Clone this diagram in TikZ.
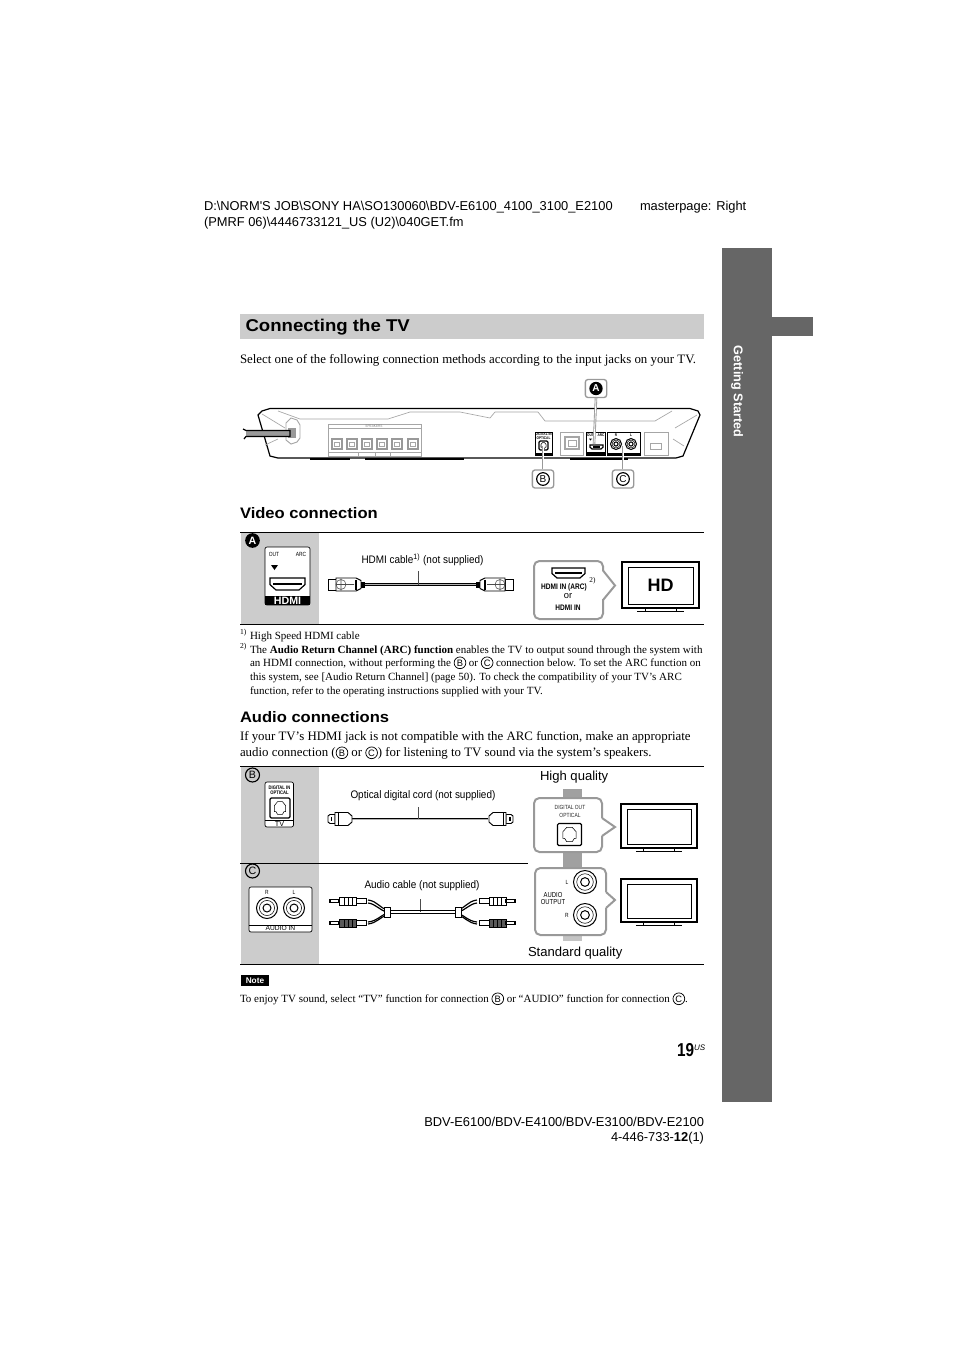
\documentclass[tikz,border=0pt]{standalone}
\usepackage{fontspec}
\setmainfont{Liberation Serif}
\setsansfont{Liberation Sans}
\newfontfamily\headf{Liberation Sans}
\newfontfamily\narrowf[FakeStretch=0.82]{Liberation Sans}
\newfontfamily\cablef[FakeStretch=0.91]{Liberation Sans}
\newfontfamily\widef[FakeStretch=1.09]{Liberation Sans}
\usepackage{xcolor}
\usetikzlibrary{calc, positioning}
\definecolor{sidegray}{HTML}{666666}
\definecolor{cellgray}{HTML}{CCCCCC}
\definecolor{framegray}{HTML}{999999}
\definecolor{paneldark}{HTML}{A0A0A0}
\definecolor{panellight}{HTML}{C4C4C4}

% letter in a ring, inside running text
\newcommand{\ringed}[1]{\tikz[baseline=(ring.base)]\node[circle, draw=black, line width=.55pt, minimum size=8.8pt, inner sep=0pt, font=\sffamily\fontsize{7}{8}\selectfont] (ring) {#1};}

% TV set, top left corner at #1,#2, sizes #3,#4
\newcommand{\tvset}[4]{
  \draw[black, line width=1pt] (#1,#2) rectangle ++(#3,#4);
  \draw[black, line width=.5pt] ($(#1,#2)+(6,5)$) rectangle ($(#1,#2)+(#3,#4)+(-6,-4)$);
  \draw[black, line width=.5pt] ($(#1,#2)+(0.3*#3,#4)$) -- ++(0,3) ++(-8,0) -- ++({0.4*#3+16},0) ++(-8,0) -- ++(0,-3);
}
% round jack with rings
\newcommand{\rcajack}[3]{
  \draw[black, line width=.75pt, fill=white] (#1,#2) circle (#3);
  \draw[black, thin] (#1,#2) circle ({0.72*#3});
  \draw[black, line width=.75pt] (#1,#2) circle ({0.38*#3});
}
% hdmi socket
\newcommand{\hdmisock}[4]{
  \draw[black, line width=.9pt, fill=white] (#1,#2) -- ++(#3,0) -- ++(0,#4*.55) -- ++(-#4*.5,#4*.45) -- ++({-#3+#4},0) -- ++(-#4*.5,-#4*.45) -- cycle;
  \draw[black, thick] ($(#1,#2)+(3,#4*.5)$) -- ++({#3-6},0);
}
% optical socket
\newcommand{\optsock}[4]{
  \draw[black, line width=.9pt, rounded corners=1pt, fill=white] (#1,#2) rectangle ++(#3,#4);
  \draw[black, thin] ($(#1,#2)+(#3*.22,#4*.5)$) -- ++(0,#4*.18) -- ++(#3*.08,0) -- ++(#3*.08,#4*.14) -- ++(#3*.24,0) -- ++(#3*.08,-#4*.14) -- ++(#3*.08,0) -- ++(0,-#4*.3) -- ++(-#3*.16,-#4*.2) -- ++(-#3*.24,0) -- ++(-#3*.16,#4*.2) -- cycle;
}

\begin{document}
\begin{tikzpicture}[x=0.75pt, y=-0.75pt, >=stealth,
    base/.style={inner sep=0pt, outer sep=0pt, anchor=base west},
    headtext/.style={base, font=\headf\fontsize{9.65}{12}\selectfont},
    bodytext/.style={base, font=\rmfamily\fontsize{9.65}{12}\selectfont},
    foottext/.style={base, font=\rmfamily\fontsize{8.25}{10}\selectfont},
    subhead/.style={base, font=\widef\bfseries\fontsize{11.4}{13}\selectfont},
    cabletext/.style={base, font=\cablef\fontsize{8.2}{10}\selectfont},
    qualtext/.style={base, font=\sffamily\fontsize{9.8}{12}\selectfont},
    tinytext/.style={inner sep=0pt, font=\narrowf\fontsize{4.5}{5}\selectfont},
    microtext/.style={inner sep=0pt, font=\narrowf\bfseries\fontsize{2.9}{3}\selectfont},
    tagbox/.style={draw=framegray, line width=1pt, rounded corners=2pt, fill=white, minimum width=16pt, minimum height=13.5pt, inner sep=0pt},
    blackdot/.style={circle, fill=black, text=white, minimum size=11pt, inner sep=0pt, font=\sffamily\bfseries\fontsize{8}{9}\selectfont},
    opendot/.style={circle, draw=black, line width=.85pt, minimum size=10.5pt, inner sep=0pt, font=\sffamily\fontsize{8}{9}\selectfont},
    panelline/.style={draw=black!35, line width=.5pt},
    cordouter/.style={draw=black, line width=2.2pt},
    cordinner/.style={draw=black!30, line width=.6pt},
    callout/.style={draw=framegray, line width=1.5pt, fill=white, rounded corners=4pt}]

  \useasboundingbox (0,0) rectangle (954,1350);

  % header
  \node[headtext] (pathone) at (204,210) {D:\textbackslash NORM'S JOB\textbackslash SONY HA\textbackslash SO130060\textbackslash BDV-E6100\_4100\_3100\_E2100};
  \node[headtext] (master) at (640,210) {masterpage: Right};
  \node[headtext] (pathtwo) at (204,226) {(PMRF 06)\textbackslash 4446733121\_US (U2)\textbackslash 040GET.fm};

  % side bar
  \fill[sidegray] (722,248) rectangle (772,1102);
  \fill[sidegray] (772,317) rectangle (813,336);
  \node[inner sep=0pt, rotate=-90, text=white, font=\sffamily\bfseries\fontsize{9.5}{10}\selectfont] (sidetitle) at (737,391.5) {Getting Started};

  % title
  \fill[cellgray] (240,314) rectangle (704,339);
  \node[base, font=\widef\bfseries\fontsize{12.8}{14}\selectfont] (title) at (245.5,331) {Connecting the TV};
  \node[bodytext] (intro) at (240,363) {Select one of the following connection methods according to the input jacks on your TV.};

  % player rear panel
  \draw[black, line width=.9pt, fill=white] (258,415) -- (262,411) -- (270,408.5) -- (690,408.5) -- (698,411) -- (700,415) -- (683,456) -- (676,458) -- (278,458) -- (270,456) -- cycle;
  \draw[black, line width=1.4pt] (270,408.5) -- (690,408.5);
  \draw[panelline] (262,414) -- (285,428) (265,445) -- (278,439);
  \draw[panelline] (278,411) -- (300,419) -- (388,419) -- (410,412) -- (460,412) -- (490,418) -- (495,412) -- (538,412);
  \draw[panelline] (538,412) -- (545,421) -- (655,421) -- (672,411);
  \draw[panelline] (697,415) -- (675,428) (673,439) -- (684,446);
  \draw[black, line width=1.2pt] (310,459) -- (350,459) (365,459) -- (464,459) (570,459) -- (628,459);
  % power cable
  \draw[panelline, line width=.7pt] (286,423) -- (291,418) -- (297,420) -- (300,425) -- (300,438) -- (297,442) -- (291,444) -- (286,440) -- cycle;
  \fill[black!40] (288,428) rectangle (296,438);
  \fill[black!40] (246,430.5) rectangle (290,436.5);
  \draw[black, line width=.9pt] (243,429) -- (246,430.5) -- (290,430.5) -- (290,436.5) -- (246,436.5) -- (244,439);
  % speaker terminals
  \draw[panelline] (328,424) rectangle (421,456);
  \draw[panelline] (328,428) -- (421,428) (328,452) -- (421,452) (358,452) -- (358,456) (375,452) -- (375,456) (390,452) -- (390,456);
  \node[tinytext, font=\narrowf\fontsize{2.9}{3}\selectfont, text=black!50] (spklabel) at (374,425.8) {SPEAKERS};
  \foreach \sx in {337,352,367,382,397,413}{
    \draw[draw=black!40, line width=.8pt] (\sx-5,439) rectangle (\sx+5,449);
    \draw[panelline] (\sx-2.5,442) rectangle (\sx+2.5,446);
  }
  % digital in
  \draw[black, line width=.5pt, fill=white] (535,432) rectangle (552,455);
  \node[microtext] (bdigin) at (543.5,434.5) {DIGITAL IN};
  \node[microtext] (bdigopt) at (543.5,438) {OPTICAL};
  \optsock{539}{441}{9}{9}
  \fill[black] (535,452.5) rectangle (552,455);
  % lan
  \draw[panelline] (560,432) rectangle (583,455);
  \draw[panelline, line width=.8pt] (565,437) rectangle (579,449);
  \draw[panelline] (568,440) rectangle (576,446);
  % hdmi
  \draw[black, line width=.5pt] (586,432) rectangle (605,455);
  \fill[black] (586,452) rectangle (605,455);
  \node[microtext] (boutlbl) at (590.5,435) {OUT};
  \node[microtext] (barclbl) at (601,435) {ARC};
  \fill[black] (589,438.5) -- (592,438.5) -- (590.5,440.5) -- cycle;
  \hdmisock{590}{445}{13}{4}
  % audio in
  \draw[black, line width=.6pt] (607,432) rectangle (640,455);
  \fill[black] (607,452.5) rectangle (640,455);
  \node[microtext] (brlbl) at (616,435) {R};
  \node[microtext] (bllbl) at (631,435) {L};
  \rcajack{616}{444}{5.5}
  \rcajack{631}{444}{5.5}
  % antenna
  \draw[panelline] (644,432) rectangle (668,455);
  \draw[panelline] (650,443) rectangle (661,449);

  % tags
  \coordinate (jacka) at (594,444);
  \coordinate (jackb) at (543,446);
  \coordinate (jackc) at (623,446);
  \node[tagbox] (taga) at (596,388.5) {};
  \node[tagbox] (tagb) at (543,479) {};
  \node[tagbox] (tagc) at (623,479) {};
  \draw[framegray, line width=1.9pt] (taga.south) -- (jacka);
  \draw[white, line width=.6pt] (taga.south) -- (jacka);
  \draw[framegray, line width=1.9pt] (tagb.north) -- (jackb);
  \draw[white, line width=.6pt] (tagb.north) -- (jackb);
  \draw[framegray, line width=1.9pt] (tagc.north) -- (jackc);
  \draw[white, line width=.6pt] (tagc.north) -- (jackc);
  \node[blackdot, minimum size=10pt, font=\sffamily\bfseries\fontsize{7.5}{8}\selectfont] (dota) at (taga) {A};
  \node[opendot, minimum size=9.5pt, font=\sffamily\fontsize{7.5}{8}\selectfont] (dotb) at (tagb) {B};
  \node[opendot, minimum size=9.5pt, font=\sffamily\fontsize{7.5}{8}\selectfont] (dotc) at (tagc) {C};

  % video connection
  \node[subhead] (videohead) at (240,518) {Video connection};
  \fill[cellgray] (241,533) rectangle (319,624);
  \draw[black, line width=.8pt] (240,532.5) -- (704,532.5) (240,624.5) -- (704,624.5);
  \node[blackdot] (cella) at (252.5,540.5) {A};
  % hdmi out panel
  \draw[black, line width=.5pt, rounded corners=1.5pt, fill=white] (265,547) rectangle (310,605);
  \node[tinytext] (outlbl) at (274,554) {OUT};
  \node[tinytext] (arclbl) at (301,554) {ARC};
  \fill[black] (271,565) -- (278,565) -- (274.5,570) -- cycle;
  \hdmisock{270}{578}{35}{12}
  \fill[black] (265,596) rectangle (310,605);
  \node[inner sep=0pt, text=white, font=\sffamily\bfseries\fontsize{8}{9}\selectfont] (hdmilogo) at (287.5,600.5) {HDMI};
  % hdmi cable
  \node[cabletext] (hdmicap) at (361.5,563) {HDMI cable\textsuperscript{\fontsize{5.8}{6}\selectfont 1)} (not supplied)};
  \draw[cordouter] (362,584.5) -- (480,584.5);
  \draw[cordinner] (362,584.5) -- (480,584.5);
  \draw[black!70, line width=.8pt] (418.5,571) -- (418.5,585);
  \foreach \hs/\hx in {1/328,-1/513}{
    \begin{scope}[shift={(\hx,584.5)}, xscale=\hs]
      \draw[black, line width=.7pt, fill=white] (0,-5.5) rectangle (8,5.5);
      \draw[black, line width=.7pt, fill=white] (8,-6.5) -- (28,-6.5) -- (33,-4) -- (33,4) -- (28,6.5) -- (8,6.5) -- cycle;
      \draw[black!70, thin] (13,0) circle (5) (8,0) -- (26,0) (13,-6) -- (13,6);
      \draw[black, thick] (28,-5) -- (28,5);
      \fill[black] (33,-3) rectangle (37,3);
    \end{scope}
  }
  % hdmi callout
  \draw[callout] (534,561) rectangle (603,619);
  \fill[white] (601,571) rectangle (605,599);
  \draw[framegray, line width=1.5pt] (603,570.5) -- (615,585.5) -- (603,600);
  \hdmisock{552}{568}{33}{10}
  \node[inner sep=0pt, font=\narrowf\bfseries\fontsize{6}{7}\selectfont] (hdmiinarc) at (564,587) {HDMI IN (ARC)};
  \node[inner sep=0pt, font=\rmfamily\fontsize{5.5}{6}\selectfont] (hdminote) at (592.5,581) {2)};
  \node[inner sep=0pt, font=\sffamily\fontsize{7}{8}\selectfont] (hdmior) at (568,596) {or};
  \node[inner sep=0pt, font=\narrowf\bfseries\fontsize{6}{7}\selectfont] (hdmiin) at (568,608) {HDMI IN};
  \tvset{622}{562}{77}{46}
  \node[inner sep=0pt, font=\sffamily\bfseries\fontsize{13.5}{15}\selectfont] (hdlbl) at (660.5,585) {HD};

  % footnotes
  \node[foottext, font=\rmfamily\fontsize{5.7}{6}\selectfont] (fna) at (240,634) {1)};
  \node[foottext] (fnatext) at (250,639) {High Speed HDMI cable};
  \node[foottext, font=\rmfamily\fontsize{5.7}{6}\selectfont] (fnb) at (240,648) {2)};
  \node[foottext] (fnbone) at (250,653) {The \textbf{Audio Return Channel (ARC) function} enables the TV to output sound through the system with};
  \node[foottext] (fnbtwo) at (250,666) {an HDMI connection, without performing the \ringed{B} or \ringed{C} connection below. To set the ARC function on};
  \node[foottext] (fnbthree) at (250,680) {this system, see [Audio Return Channel] (page 50). To check the compatibility of your TV's ARC};
  \node[foottext] (fnbfour) at (250,694) {function, refer to the operating instructions supplied with your TV.};

  % audio connections
  \node[subhead] (audiohead) at (240,722) {Audio connections};
  \node[bodytext] (audioone) at (240,740) {If your TV's HDMI jack is not compatible with the ARC function, make an appropriate};
  \node[bodytext] (audiotwo) at (240,756) {audio connection (\ringed{B} or \ringed{C}) for listening to TV sound via the system's speakers.};

  \fill[cellgray] (241,767) rectangle (319,964);
  \draw[black, line width=.8pt] (240,766.5) -- (704,766.5) (240,964.5) -- (704,964.5);
  \draw[black, line width=.8pt] (240,863.5) -- (528,863.5);
  \node[opendot] (cellb) at (252.5,775) {B};
  \node[opendot] (cellc) at (252.5,871) {C};
  % digital in panel
  \draw[black, line width=.5pt, rounded corners=1.5pt, fill=white] (265,782) rectangle (293.5,827);
  \node[tinytext, font=\narrowf\bfseries\fontsize{3.8}{4}\selectfont] (digin) at (279.5,787.5) {DIGITAL IN};
  \node[tinytext, font=\narrowf\bfseries\fontsize{3.8}{4}\selectfont] (digopt) at (279.5,793) {OPTICAL};
  \optsock{270}{798}{20}{20}
  \draw[black, thin] (265,820) -- (293.5,820);
  \node[tinytext, font=\sffamily\fontsize{5.5}{6}\selectfont] (digtv) at (279.5,824) {TV};
  % optical cord
  \node[cabletext] (optcap) at (350.5,798) {Optical digital cord (not supplied)};
  \draw[cordouter] (352,819) -- (488,819);
  \draw[cordinner] (352,819) -- (488,819);
  \draw[black!70, line width=.8pt] (418.5,807) -- (418.5,819);
  \foreach \os/\ox in {1/328,-1/513}{
    \begin{scope}[shift={(\ox,819)}, xscale=\os]
      \draw[black, line width=.7pt, fill=white] (0,-3) -- (2,-4.5) -- (7,-4.5) -- (7,4.5) -- (2,4.5) -- (0,3) -- cycle;
      \fill[black] (2.5,-2) rectangle (4,2);
      \draw[black, line width=.7pt, fill=white] (7,-6.5) -- (20,-6.5) -- (24,-3) -- (24,3) -- (20,6.5) -- (7,6.5) -- cycle;
      \draw[black, thin] (10,-6.5) -- (10,6.5);
    \end{scope}
  }
  % audio in panel
  \draw[black, line width=.5pt, rounded corners=1.5pt, fill=white] (249,887) rectangle (312,932);
  \node[tinytext] (audr) at (267,892.5) {R};
  \node[tinytext] (audl) at (294,892.5) {L};
  \rcajack{267}{908}{10.5}
  \rcajack{294}{908}{10.5}
  \draw[black, thin] (249,925) -- (312,925);
  \node[inner sep=0pt, font=\sffamily\fontsize{5}{6}\selectfont] (audin) at (280.5,928.5) {AUDIO IN};
  % audio cable
  \node[cabletext] (audcap) at (364.5,888) {Audio cable (not supplied)};
  \draw[black!70, line width=.8pt] (420.5,899) -- (420.5,912);
  \draw[black, line width=1.1pt] (387,910.5) -- (456,910.5) (387,913.5) -- (456,913.5);
  \foreach \as/\ax in {1/330,-1/515}{
    \begin{scope}[shift={(\ax,0)}, xscale=\as]
      \draw[black, line width=.9pt] (38,900) .. controls (47,901) and (50,908) .. (57,910);
      \draw[black, line width=.9pt] (38,903) .. controls (46,904) and (49,910) .. (57,912);
      \draw[black, line width=.9pt] (38,922) .. controls (47,921) and (50,916) .. (57,913);
      \draw[black, line width=.9pt] (38,924) .. controls (47,923) and (50,917) .. (57,915);
      \draw[black, line width=.6pt, fill=white] (54,907) rectangle (60,917);
      \foreach \py/\pfill in {901/white,923/black!65}{
        \draw[black, line width=.6pt, fill=\pfill] (9,\py-4) rectangle (26,\py+4);
        \draw[black, line width=.6pt] (14,\py-4) -- (14,\py+4) (18,\py-4) -- (18,\py+4) (22,\py-4) -- (22,\py+4);
        \draw[black, line width=.6pt, fill=white] (26,\py-2.5) rectangle (36,\py+2.5);
        \draw[black, line width=.8pt, fill=white] (0,\py-1.3) -- (9,\py-1.3) -- (9,\py+1.3) -- (0,\py+1.3) -- cycle;
      }
    \end{scope}
  }

  % quality side
  \node[qualtext] (highq) at (540,780.5) {High quality};
  \fill[paneldark] (563,789) rectangle (582,868);
  \fill[panellight] (563,868) rectangle (582,941);
  \draw[callout] (534,798) rectangle (602,852);
  \fill[white] (600,818) rectangle (604,836);
  \draw[framegray, line width=1.5pt] (602,818) -- (615,827) -- (602,836);
  \node[tinytext, text=black!85] (digout) at (570,807) {DIGITAL OUT};
  \node[tinytext, text=black!85] (digoptb) at (570,815.5) {OPTICAL};
  \optsock{557.5}{823.5}{24}{22}
  \draw[callout] (535,868) rectangle (606,935);
  \fill[white] (604,892) rectangle (608,908);
  \draw[framegray, line width=1.5pt] (606,892) -- (615,900) -- (606,908);
  \node[tinytext] (outl) at (567,882) {L};
  \node[tinytext] (outr) at (567,915) {R};
  \node[inner sep=0pt, font=\narrowf\fontsize{5.4}{6}\selectfont] (audout) at (553,895) {AUDIO};
  \node[inner sep=0pt, font=\narrowf\fontsize{5.4}{6}\selectfont] (audoutb) at (553,902) {OUTPUT};
  \rcajack{585}{882}{11.5}
  \rcajack{585}{915}{11.5}
  \tvset{621}{804}{76}{44}
  \tvset{621}{879}{76}{43}
  \node[qualtext] (stdq) at (528,956.5) {Standard quality};

  % note
  \node[anchor=west, fill=black, text=white, inner sep=0pt, minimum width=20.5pt, minimum height=8.5pt, font=\sffamily\bfseries\fontsize{6.2}{7}\selectfont] (notetag) at (241,980.5) {Note};
  \node[foottext] (notetext) at (240,1002) {To enjoy TV sound, select ``TV'' function for connection \ringed{B} or ``AUDIO'' function for connection \ringed{C}.};

  % page number and footer
  \node[base, font=\narrowf\bfseries\fontsize{14}{16}\selectfont] (pagenum) at (677,1056) {19};
  \node[base, font=\sffamily\itshape\fontsize{6}{7}\selectfont] (pagesup) at (694,1050) {US};
  \node[headtext, anchor=base east] (models) at (704,1126) {BDV-E6100/BDV-E4100/BDV-E3100/BDV-E2100};
  \node[headtext, anchor=base east] (partno) at (704,1141) {4-446-733-\textbf{12}(1)};
\end{tikzpicture}
\end{document}
